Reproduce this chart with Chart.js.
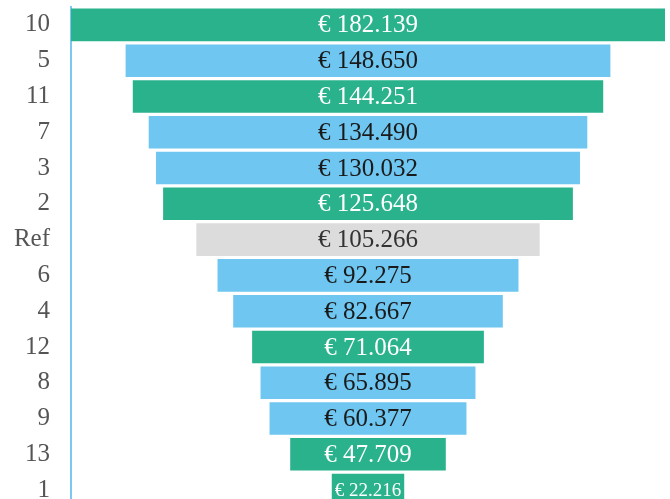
<!DOCTYPE html>
<html>
<head>
<meta charset="utf-8">
<script src="https://cdn.jsdelivr.net/npm/chart.js@4"></script>
<style>
  html, body { margin: 0; padding: 0; overflow: hidden; background: #fff; }
  #funnel { position: absolute; left: 0; top: 0; }
</style>
</head>
<body>
<canvas id="funnel" width="670" height="508"></canvas>
<script>
const labels = ['10', '5', '11', '7', '3', '2', 'Ref', '6', '4', '12', '8', '9', '13', '1'];
const values = [182139, 148650, 144251, 134490, 130032, 125648, 105266, 92275, 82667, 71064, 65895, 60377, 47709, 22216];
const groups = ['g', 'b', 'g', 'b', 'b', 'g', 'r', 'b', 'b', 'g', 'b', 'b', 'g', 'g'];

const FILL = { g: '#29b28b', b: '#6ec6f1', r: '#dcdcdc' };
const INK = { g: '#ffffff', b: '#1a1a1a', r: '#333333' };
const SERIF = '"Liberation Serif", "DejaVu Serif", serif';

const half = Math.max(...values) / 2;

const fmt = (v) => '€ ' + String(v).replace(/\B(?=(\d{3})+(?!\d))/g, '.');

// centred value labels (no datalabels plugin available)
const barLabels = {
  id: 'barLabels',
  afterDatasetsDraw(chart) {
    const ctx = chart.ctx;
    const meta = chart.getDatasetMeta(0);
    ctx.save();
    ctx.textAlign = 'center';
    ctx.textBaseline = 'middle';
    meta.data.forEach((bar, i) => {
      const w = Math.abs(bar.x - bar.base);
      const txt = fmt(values[i]);
      let size = 25;
      ctx.font = size + 'px ' + SERIF;
      while (ctx.measureText(txt).width > w - 4 && size > 8) {
        size--;
        ctx.font = size + 'px ' + SERIF;
      }
      ctx.fillStyle = INK[groups[i]];
      ctx.fillText(txt, (bar.x + bar.base) / 2, bar.y + 1);
    });
    ctx.restore();
  },
};

new Chart(document.getElementById('funnel'), {
  type: 'bar',
  data: {
    labels: labels,
    datasets: [
      {
        data: values.map((v) => [-v / 2, v / 2]),
        backgroundColor: groups.map((g) => FILL[g]),
        borderWidth: 0,
        barPercentage: 0.91,
        categoryPercentage: 1,
      },
    ],
  },
  options: {
    indexAxis: 'y',
    responsive: false,
    animation: false,
    devicePixelRatio: 1,
    layout: { padding: { top: 7, right: 5, bottom: 0, left: 0 } },
    plugins: { legend: { display: false }, tooltip: { enabled: false } },
    scales: {
      x: { display: false, min: -half, max: half },
      y: {
        afterFit: (axis) => {
          axis.width = 71;
          axis.paddingTop = 0;
          axis.paddingBottom = 0;
        },
        grid: { drawOnChartArea: false, drawTicks: false },
        border: { display: true, color: '#7cc8f0', width: 2 },
        ticks: {
          color: '#555555',
          padding: 21,
          font: { family: SERIF, size: 25 },
        },
      },
    },
  },
  plugins: [barLabels],
});
</script>
</body>
</html>
